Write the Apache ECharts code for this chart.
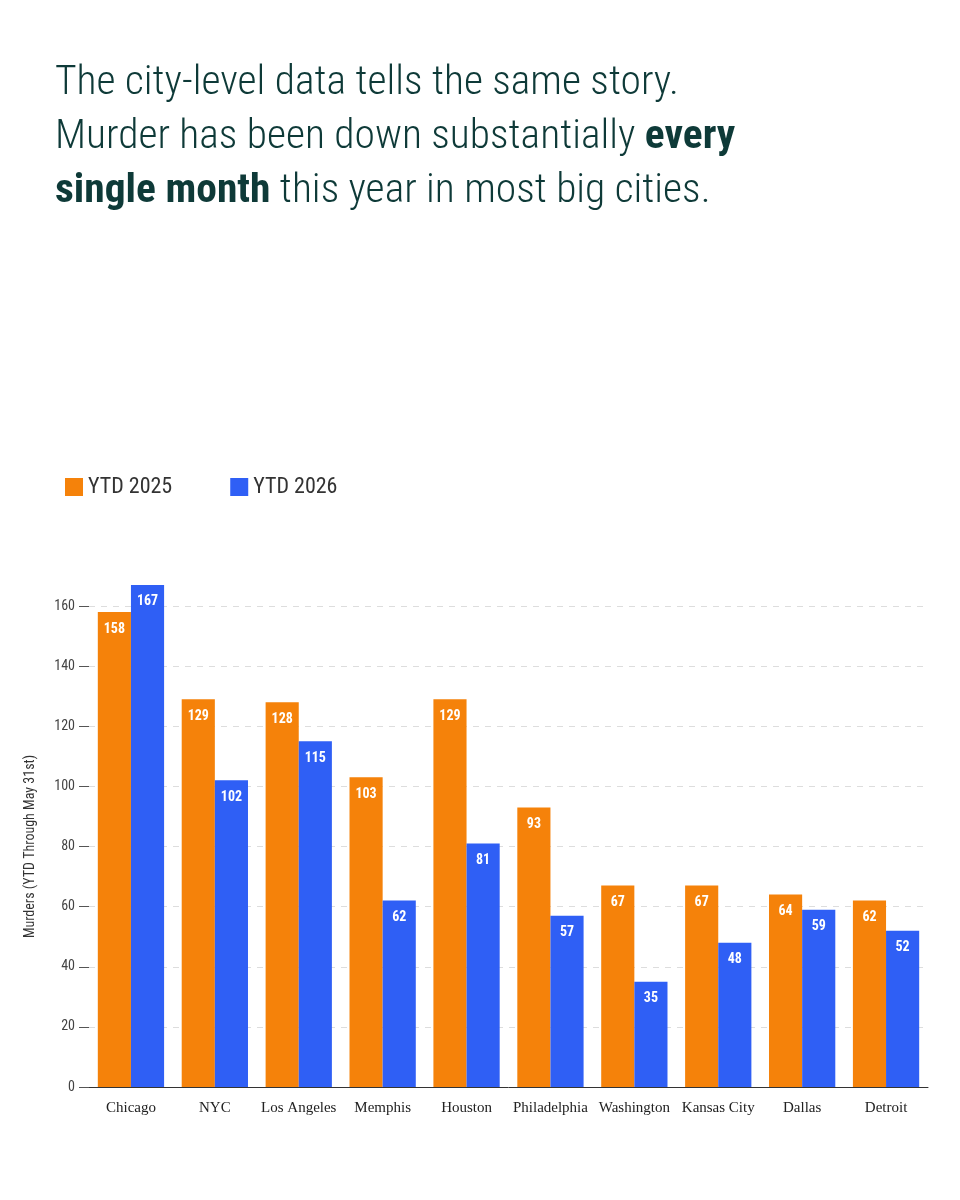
<!DOCTYPE html>
<html><head><meta charset="utf-8">
<script src="https://cdn.jsdelivr.net/npm/echarts@6/dist/echarts.min.js"></script>
<style>body{margin:0;background:#fff}#c{width:960px;height:1200px}</style>
</head><body><div id="c"></div>
<script>
const categories=["Chicago","NYC","Los Angeles","Memphis","Houston","Philadelphia","Washington","Kansas City","Dallas","Detroit"];
const ytd2025=[158,129,128,103,129,93,67,67,64,62];
const ytd2026=[167,102,115,62,81,57,35,48,59,52];
const yTicks=[0,20,40,60,80,100,120,140,160];
const chart=echarts.init(document.getElementById('c'));
const tf='Roboto Condensed, Liberation Sans Narrow, Roboto';
const lbl={show:true,position:'insideTop',color:'#fff',fontWeight:'bold',fontSize:14,fontFamily:tf,distance:10};
chart.setOption({
  title:{left:50,top:52,text:'The city-level data tells the same story.\nMurder has been down substantially {b|every}\n{b|single month} this year in most big cities.',
    textStyle:{fontFamily:tf,fontWeight:300,fontSize:41.5,lineHeight:54,color:'#0e3a38',
      rich:{b:{fontFamily:tf,fontWeight:'bold',fontSize:41.5,lineHeight:54,color:'#0e3a38'}}}},
  legend:{left:60,top:471,itemWidth:18,itemHeight:18,itemGap:58,icon:'rect',
    textStyle:{fontFamily:tf,fontSize:22,color:'#333'}},
  grid:{left:89,right:32,top:606,bottom:113},
  xAxis:{type:'category',data:categories,axisTick:{show:false},axisLine:{lineStyle:{color:'#333'}},
    axisLabel:{interval:0,fontFamily:'Liberation Serif',fontSize:15,color:'#222',margin:14}},
  yAxis:{type:'value',min:0,max:160,interval:20,name:'Murders (YTD Through May 31st)',nameLocation:'middle',nameGap:52,
    nameTextStyle:{fontFamily:tf,fontSize:14,color:'#333'},
    axisLine:{show:false},axisTick:{show:true,length:10,lineStyle:{color:'#555'}},
    axisLabel:{fontFamily:tf,fontSize:14,color:'#444',margin:14},
    splitLine:{lineStyle:{color:'#ddd',type:[6,6]}}},
  series:[
    {name:'YTD 2025',type:'bar',data:ytd2025,itemStyle:{color:'#f5820a'},barGap:'0%',barCategoryGap:'21%',label:lbl,clip:false},
    {name:'YTD 2026',type:'bar',data:ytd2026,itemStyle:{color:'#2f5ff5'},label:lbl,clip:false}
  ]
});
</script></body></html>
